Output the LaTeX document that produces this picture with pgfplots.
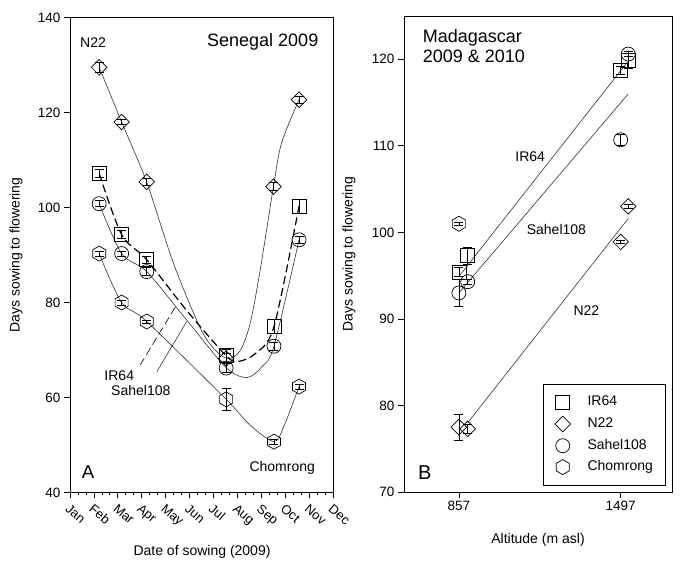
\documentclass[border=0pt]{standalone}
\usepackage{fontspec}
\setmainfont{Liberation Sans}
\usepackage{pgfplots}
\pgfplotsset{compat=1.18}
\newcommand\fs[1]{\fontsize{#1}{#1}\selectfont}
\pgfdeclareplotmark{hexagon}{%
  \pgfpathmoveto{\pgfpointpolar{90}{\pgfplotmarksize}}%
  \pgfpathlineto{\pgfpointpolar{150}{\pgfplotmarksize}}%
  \pgfpathlineto{\pgfpointpolar{210}{\pgfplotmarksize}}%
  \pgfpathlineto{\pgfpointpolar{270}{\pgfplotmarksize}}%
  \pgfpathlineto{\pgfpointpolar{330}{\pgfplotmarksize}}%
  \pgfpathlineto{\pgfpointpolar{30}{\pgfplotmarksize}}%
  \pgfpathclose
  \pgfusepathqstroke}
\pgfdeclareplotmark{sqdiamond}{%
  \pgfpathmoveto{\pgfqpoint{0pt}{\pgfplotmarksize}}%
  \pgfpathlineto{\pgfqpoint{\pgfplotmarksize}{0pt}}%
  \pgfpathlineto{\pgfqpoint{0pt}{-\pgfplotmarksize}}%
  \pgfpathlineto{\pgfqpoint{-\pgfplotmarksize}{0pt}}%
  \pgfpathclose
  \pgfusepathqstroke}
\pgfplotsset{
  common/.style={scale only axis, clip=false, tick align=outside,
    xtick pos=bottom, ytick pos=left,
    axis line style={line width=0.8pt},
    major tick length=6pt, minor tick length=3pt,
    every tick/.style={black, line width=0.7pt},
    ticklabel style={font=\fs{13.5}},
    /pgf/number format/assume math mode=true,
    /pgf/number format/1000 sep={},
    label style={font=\fs{14}}},
  mk/.style={only marks, forget plot, black, mark options={line width=0.7pt}},
  eb/.style={error bars/.cd, y dir=both, y explicit,
    error bar style={line width=0.7pt, black},
    error mark options={rotate=90, mark size=4.5pt, line width=0.7pt, black}},
  fit/.style={black!80, line width=0.6pt, smooth, no marks, forget plot},
}
\tikzset{lab/.style={anchor=base west, inner sep=0pt, font=\fs{14}}}
\begin{document}
\begin{tikzpicture}
\path[use as bounding box] (0pt,0pt) rectangle (688pt,561pt);
% ---------------- Panel A ----------------
\begin{axis}[common, at={(70pt,68.5pt)}, anchor=south west,
  width=263pt, height=475pt,
  xmin=1, xmax=12, ymin=40, ymax=140,
  xtick={1,...,12},
  xticklabels={Jan,Feb,Mar,Apr,May,Jun,Jul,Aug,Sep,Oct,Nov,Dec},
  minor x tick num=2,
  ytick={40,60,...,140},
  xticklabel style={rotate=-40, anchor=north west, font=\fs{13}},
  xlabel={Date of sowing (2009)},
  ylabel={Days sowing to flowering},
  xlabel style={at={(axis description cs:0.502,-0.1246)}, anchor=center},
  ylabel style={at={(axis description cs:-0.205,0.5)}, anchor=center}]
% fitted curves
\addplot[fit] coordinates {(2.22,129.5)(3.16,118)(4.21,105.3)(5.31,88.5)(6.44,74.7)(7.07,70.0)(7.61,68.2)(8.11,69.8)(8.53,75.5)(8.95,86.7)(9.51,104.4)(9.85,113.6)(10.58,122.7)};
\addplot[fit] coordinates {(2.22,100.8)(3.16,90.3)(4.21,86.5)(5.85,76.5)(7.53,66.3)(8.40,64.2)(9.03,66.5)(9.53,70.8)(10.58,93.2)};
\addplot[fit, line width=1.2pt, black, dash pattern=on 8pt off 4pt] coordinates {(2.22,107.2)(3.16,94.3)(4.21,89)(5.85,78.5)(7.53,68.8)(8.03,67.6)(8.74,69.2)(9.53,74.9)(10.58,100.3)};
\addplot[fit] coordinates {(2.22,90.3)(3.16,80)(4.21,76)(7.53,59.6)(8.53,54.2)(9.53,50.7)(9.95,54.0)(10.58,62.3)};
% data
\addplot[mk, mark=sqdiamond, mark size=7.8pt, eb] coordinates {
 (2.22,129.5) +- (0,1.0) (3.16,118) +- (0,0.6) (4.21,105.4) +- (0,0.8)
 (7.53,68.2) +- (0,1.0) (9.51,104.4) +- (0,0.8) (10.58,122.7) +- (0,0.8)};
\addplot[mk, mark=square, mark size=7pt, eb] coordinates {
 (2.22,107.2) +- (0,0.8) (3.16,94.3) +- (0,0.8) (4.21,89) +- (0,0.8)
 (7.53,68.8) +- (0,1.3) (9.53,74.9) +- (0,1.5) (10.58,100.3) +- (0,1.5)};
\addplot[mk, mark=o, mark size=7pt, eb] coordinates {
 (2.22,100.8) +- (0,0.6) (3.16,90.3) +- (0,0.5) (4.21,86.5) +- (0,0.8)
 (7.53,66.2) +- (0,1.0) (9.53,70.8) +- (0,0.8) (10.58,93.2) +- (0,0.8)};
\addplot[mk, mark=hexagon, mark size=7.5pt, eb] coordinates {
 (2.22,90.3) +- (0,0.5) (3.16,80) +- (0,0.5) (4.21,76) +- (0,0.3)
 (7.53,59.6) +- (0,2.3) (9.53,50.7) +- (0,0.5) (10.58,62.3) +- (0,0.5)};
% labels and pointers
\draw[line width=0.6pt, dash pattern=on 8pt off 4pt] (axis cs:3.93,66.8) -- (axis cs:5.46,79.5);
\draw[line width=0.6pt, black!80] (axis cs:4.63,65.4) -- (axis cs:5.88,76.0);
\node[lab] at (axis cs:1.42,133.6) {N22};
\node[lab, font=\fs{18}] at (axis cs:6.73,133.96) {Senegal 2009};
\node[lab] at (axis cs:2.434,63.68) {IR64};
\node[lab] at (axis cs:2.715,60.32) {Sahel108};
\node[lab] at (axis cs:8.50,44.38) {Chomrong};
\node[lab, font=\fs{18.6}] at (axis cs:1.49,43.0) {A};
\end{axis}
% ---------------- Panel B ----------------
\begin{axis}[common, at={(404pt,69pt)}, anchor=south west,
  width=268pt, height=476pt,
  xmin=640, xmax=1700, ymin=70, ymax=125,
  xtick={857,1497}, ytick={70,80,...,120},
  xlabel={Altitude (m asl)},
  ylabel={Days sowing to flowering},
  xlabel style={at={(axis description cs:0.5,-0.1008)}, anchor=center},
  ylabel style={at={(axis description cs:-0.205,0.5)}, anchor=center},
  legend style={at={(rel axis cs:0.975,0.0126)}, anchor=south east,
    draw=black, line width=0.8pt, font=\fs{14}, inner xsep=12pt, inner ysep=11pt,
    row sep=6.9pt, nodes={inner sep=0pt, text height=10.5pt, text depth=3.5pt},
    /tikz/every odd column/.append style={column sep=17pt}},
  legend cell align=left]
\addlegendimage{only marks, black, mark=square, mark size=7pt, mark options={line width=0.7pt}}
\addlegendentry{IR64}
\addlegendimage{only marks, black, mark=sqdiamond, mark size=7.8pt, mark options={line width=0.7pt}}
\addlegendentry{N22}
\addlegendimage{only marks, black, mark=o, mark size=7pt, mark options={line width=0.7pt}}
\addlegendentry{Sahel108}
\addlegendimage{only marks, black, mark=hexagon, mark size=7.5pt, mark options={line width=0.7pt}}
\addlegendentry{Chomrong}
% regression lines
\addplot[fit, sharp plot] coordinates {(857,94.9)(1527,119.8)};
\addplot[fit, sharp plot] coordinates {(857,93.0)(1527,116.0)};
\addplot[fit, sharp plot] coordinates {(892,78.0)(1527,101.6)};
% data
\addplot[mk, mark=square, mark size=7pt, eb] coordinates {
 (857,95.4) +- (0,0.5) (892,97.3) +- (0,1.0) (1497,118.7) +- (0,0.5) (1527,119.9) +- (0,1.0)};
\addplot[mk, mark=o, mark size=7pt, eb] coordinates {
 (857,93.0) +- (0,1.6) (892,94.3) +- (0,0.3) (1497,110.7) +- (0,0.6) (1527,120.6) +- (0,0.3)};
\addplot[mk, mark=sqdiamond, mark size=7.8pt, eb] coordinates {
 (857,77.5) +- (0,1.5) (892,77.3) +- (0,0.5) (1497,98.9) +- (0,0.2) (1527,103.0) +- (0,0.2)};
\addplot[mk, mark=hexagon, mark size=7.5pt, eb] coordinates {
 (857,101.0) +- (0,0.2)};
\node[lab, font=\fs{18}] at (axis cs:714,121.97) {Madagascar};
\node[lab, font=\fs{18}] at (axis cs:714,119.65) {2009 \& 2010};
\node[lab] at (axis cs:1080,108.18) {IR64};
\node[lab] at (axis cs:1125,99.79) {Sahel108};
\node[lab] at (axis cs:1310,90.36) {N22};
\node[lab, font=\fs{20}] at (axis cs:695.5,71.5) {B};
\end{axis}
\end{tikzpicture}
\end{document}
